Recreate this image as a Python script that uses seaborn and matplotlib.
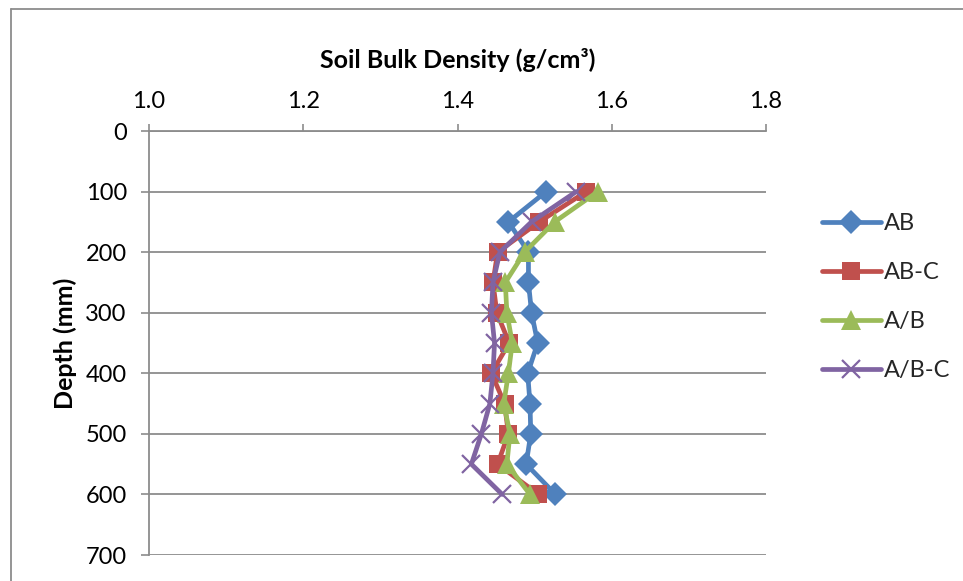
import matplotlib
matplotlib.use("Agg")
import matplotlib.pyplot as plt
from matplotlib.lines import Line2D
import seaborn as sns
import pandas as pd

depth = [100, 150, 200, 250, 300, 350, 400, 450, 500, 550, 600]
series_names = ["AB", "AB-C", "A/B", "A/B-C"]
ab = [1.515, 1.466, 1.492, 1.492, 1.496, 1.504, 1.491, 1.494, 1.495, 1.489, 1.527]
ab_c = [1.567, 1.506, 1.452, 1.446, 1.451, 1.467, 1.444, 1.461, 1.466, 1.452, 1.505]
a_b = [1.582, 1.526, 1.487, 1.462, 1.464, 1.471, 1.466, 1.460, 1.468, 1.464, 1.494]
a_b_c = [1.554, 1.496, 1.455, 1.446, 1.444, 1.448, 1.446, 1.442, 1.431, 1.418, 1.458]
x_ticks = [1.0, 1.2, 1.4, 1.6, 1.8]
y_ticks = [0, 100, 200, 300, 400, 500, 600, 700]

sns.set_theme(style="white")
plt.rcParams["font.family"] = ["Lato", "DejaVu Sans"]

colors = ["#4F81BD", "#C0504D", "#9BBB59", "#8064A2"]
markers = ["D", "s", "^", "x"]
msizes = [12, 13, 15, 13]

fig = plt.figure(figsize=(9.63, 5.81), dpi=100)
ax = fig.add_axes([149 / 963, 1 - 555 / 581, (766 - 149) / 963, (555 - 131) / 581])

rows = []
for name, vals in zip(series_names, [ab, ab_c, a_b, a_b_c]):
    for d, v in zip(depth, vals):
        rows.append({"series": name, "depth": d, "density": v})
df = pd.DataFrame(rows)

handles = []
for name, c, m, ms in zip(series_names, colors, markers, msizes):
    sub = df[df["series"] == name]
    kw = dict(marker=m, markersize=ms, color=c, linewidth=3.4)
    if m == "x":
        kw.update(markeredgewidth=1.6, markeredgecolor=c)
    else:
        kw.update(markeredgewidth=0)
    sns.lineplot(data=sub, x="density", y="depth", orient="y", sort=False,
                 estimator=None, ax=ax, **kw)
    handles.append(Line2D([0], [0], label=name, **kw))

ax.set_xlim(1.0, 1.8)
ax.set_ylim(700, 0)
ax.set_xticks(x_ticks)
ax.set_xticklabels([f"{t:.1f}" for t in x_ticks])
ax.set_yticks(y_ticks)
ax.set_yticklabels([str(t) for t in y_ticks])
ax.xaxis.tick_top()
ax.xaxis.set_label_position("top")
ax.set_xlabel("Soil Bulk Density (g/cm³)", fontsize=18, fontweight="bold", labelpad=16.5, color="black")
ax.set_ylabel("Depth (mm)", fontsize=18, fontweight="bold", labelpad=6, color="black")
ax.tick_params(axis="x", which="both", direction="out", length=5, width=1.2, color="#8c8c8c",
               labelsize=17, pad=9, labelcolor="black", top=True, bottom=False)
ax.tick_params(axis="y", which="both", direction="out", length=6, width=1.2, color="#8c8c8c",
               labelsize=17, pad=10, labelcolor="black", left=True)
ax.yaxis.grid(True, color="#8c8c8c", linewidth=1.3)
ax.xaxis.grid(False)
for side in ["right", "bottom"]:
    ax.spines[side].set_visible(False)
for side in ["left", "top"]:
    ax.spines[side].set_color("#8c8c8c")
    ax.spines[side].set_linewidth(1.3)

leg = ax.legend(handles=handles, loc="upper left", bbox_to_anchor=(1.075, 0.829),
                frameon=False, fontsize=17, handlelength=2.5, handletextpad=0.15,
                labelspacing=1.19, borderaxespad=0)

# outer chart border (top and left edges visible)
fig.add_artist(Line2D([11 / 963, 1.0], [1 - 9 / 581, 1 - 9 / 581], transform=fig.transFigure,
                      color="#8c8c8c", linewidth=1.3))
fig.add_artist(Line2D([11 / 963, 11 / 963], [0, 1 - 9 / 581], transform=fig.transFigure,
                      color="#8c8c8c", linewidth=1.3))

fig.savefig("out.png", dpi=100)
